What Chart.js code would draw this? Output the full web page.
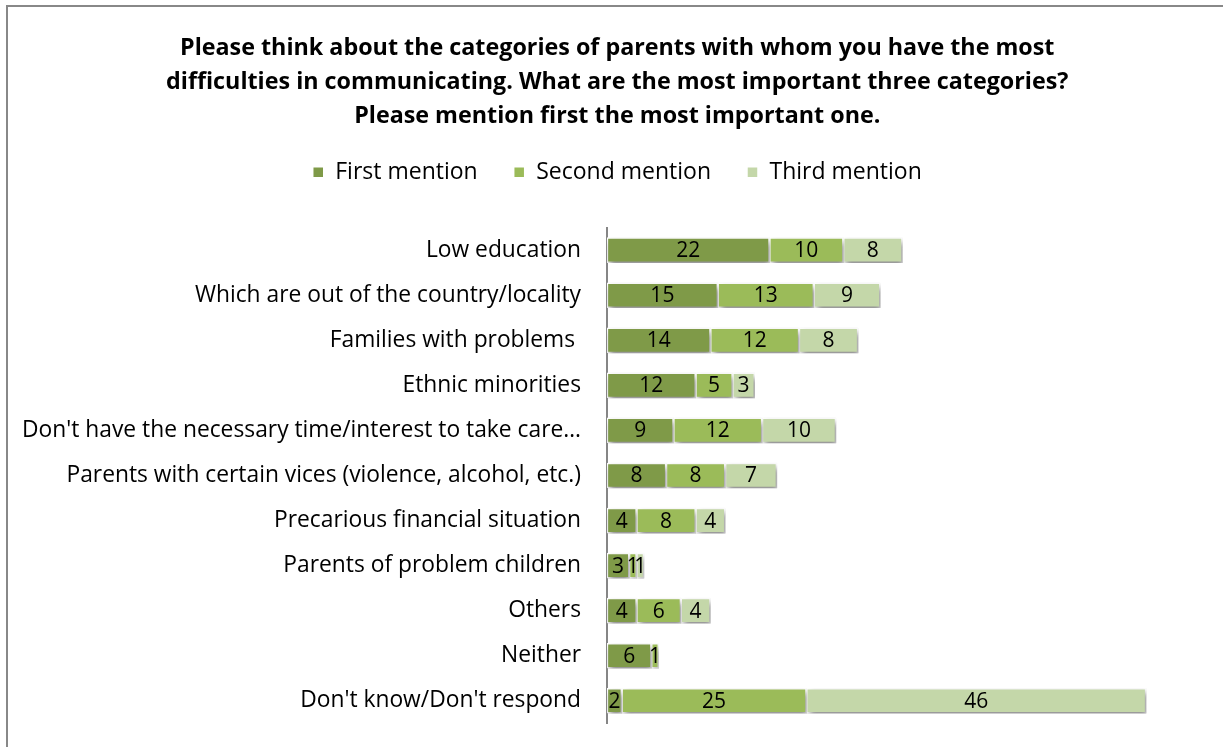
<!DOCTYPE html>
<html>
<head>
<meta charset="utf-8">
<script src="https://cdn.jsdelivr.net/npm/chart.js@4.4.1/dist/chart.umd.min.js"></script>
<style>
  html, body { margin: 0; padding: 0; background: #fff; overflow: hidden; }
  #frame { position: absolute; left: 6px; top: 5px; width: 1300px; height: 800px;
           border-left: 2px solid #888; border-top: 2px solid #888; }
  #wrap { position: absolute; left: 0; top: 0; width: 1223px; height: 763px; }
</style>
</head>
<body>
<div id="frame"></div>
<div id="wrap"><canvas id="c" width="1223" height="763"></canvas></div>
<script>
const categories = [
  "Low education",
  "Which are out of the country/locality",
  "Families with problems ",
  "Ethnic minorities",
  "Don't have the necessary time/interest to take care\u2026",
  "Parents with certain vices (violence, alcohol, etc.)",
  "Precarious financial situation",
  "Parents of problem children",
  "Others",
  "Neither",
  "Don't know/Don't respond"
];
const firstMention  = [22, 15, 14, 12,  9, 8, 4, 3, 4, 6,  2];
const secondMention = [10, 13, 12,  5, 12, 8, 8, 1, 6, 1, 25];
const thirdMention  = [ 8,  9,  8,  3, 10, 7, 4, 1, 4, 0, 46];

const seriesNames = ["First mention", "Second mention", "Third mention"];
const seriesColors = ["#7F9A48", "#9BBB59", "#C4D7A9"];

const titleLines = [
  "Please think about the categories of parents with whom you have the most",
  "difficulties in communicating. What are the most important three categories?",
  "Please mention first the most important one."
];

const FONT = "'Open Sans', sans-serif";

// soft drop shadow under the bar segments
const barShadow = {
  id: 'barShadow',
  beforeDatasetsDraw(chart) {
    const ctx = chart.ctx;
    ctx.save();
    ctx.shadowColor = 'rgba(0,0,0,0.45)';
    ctx.shadowBlur = 6;
    ctx.shadowOffsetX = 2;
    ctx.shadowOffsetY = 4;
  },
  afterDatasetsDraw(chart) {
    chart.ctx.restore();
  }
};

// value labels centred in each segment
const segmentLabels = {
  id: 'segmentLabels',
  afterDatasetsDraw(chart) {
    const ctx = chart.ctx;
    ctx.save();
    ctx.font = "21px " + FONT;
    ctx.fillStyle = '#000';
    ctx.textAlign = 'center';
    ctx.textBaseline = 'middle';
    chart.data.datasets.forEach((ds, di) => {
      const meta = chart.getDatasetMeta(di);
      meta.data.forEach((bar, i) => {
        const v = ds.data[i];
        if (!v) return;
        const x = (bar.x + bar.base) / 2;
        ctx.fillText(String(v), x, bar.y + 1);
      });
    });
    ctx.restore();
  }
};

new Chart(document.getElementById('c'), {
  type: 'bar',
  data: {
    labels: categories,
    datasets: [firstMention, secondMention, thirdMention].map((d, k) => ({
      label: seriesNames[k],
      data: d,
      backgroundColor: seriesColors[k],
      borderColor: '#ffffff',
      borderWidth: 1.5,
      borderSkipped: false,
      barThickness: 25
    }))
  },
  options: {
    indexAxis: 'y',
    responsive: false,
    animation: false,
    layout: { padding: { top: 32, left: 22, right: 10.5, bottom: 0 } },
    scales: {
      x: {
        stacked: true,
        min: 0,
        max: 82,
        position: 'top',
        grid: { display: false, drawTicks: false },
        border: { display: false },
        ticks: { display: false },
        afterFit(scale) { scale.height = 34; }
      },
      y: {
        stacked: true,
        grid: { display: false, drawTicks: false },
        border: { display: true, color: '#868686', width: 2 },
        ticks: {
          color: '#000',
          padding: 26,
          font: { family: FONT, size: 22.8 }
        },
        afterFit(scale) { scale.width = 585; }
      }
    },
    plugins: {
      title: {
        display: true,
        text: titleLines,
        color: '#000',
        font: { family: FONT, size: 23.3, weight: 'bold', lineHeight: 1.44 },
        padding: { top: 0, bottom: -8 }
      },
      legend: {
        position: 'top',
        labels: {
          color: '#000',
          boxWidth: 11,
          boxHeight: 11,
          padding: 36,
          font: { family: FONT, size: 23 }
        }
      },
      tooltip: { enabled: false }
    }
  },
  plugins: [barShadow, segmentLabels]
});
</script>
</body>
</html>
